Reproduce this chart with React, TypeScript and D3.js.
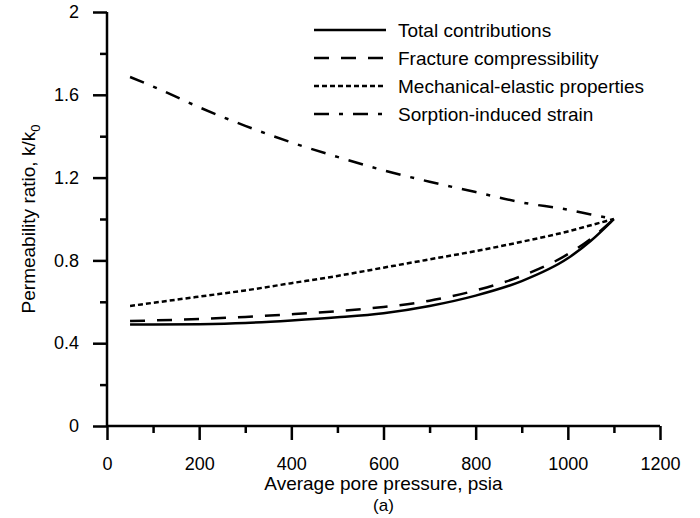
import * as d3 from "d3";
import { useEffect, useRef } from "react";

const pressure = [50, 100, 200, 300, 400, 500, 600, 700, 800, 900, 1000, 1050, 1100];
const totalRatio = [0.49, 0.49, 0.492, 0.498, 0.51, 0.525, 0.545, 0.58, 0.63, 0.7, 0.81, 0.895, 1.0];
const fractureRatio = [0.507, 0.51, 0.517, 0.527, 0.54, 0.555, 0.575, 0.605, 0.655, 0.725, 0.83, 0.905, 1.0];
const mechanicalRatio = [0.58, 0.595, 0.625, 0.655, 0.69, 0.725, 0.765, 0.805, 0.845, 0.89, 0.94, 0.97, 1.0];
const sorptionRatio = [1.686, 1.64, 1.54, 1.45, 1.37, 1.3, 1.235, 1.18, 1.13, 1.08, 1.045, 1.022, 1.0];

const xMajorTicks = [0, 200, 400, 600, 800, 1000, 1200];
const xMinorTicks = [100, 300, 500, 700, 900, 1100];
const yMajorTicks = [0, 0.4, 0.8, 1.2, 1.6, 2];
const yMinorTicks = [0.2, 0.6, 1.0, 1.4, 1.8];

const SERIES = [
  { name: "Total contributions", values: totalRatio, dash: null },
  { name: "Fracture compressibility", values: fractureRatio, dash: "15,12" },
  { name: "Mechanical-elastic properties", values: mechanicalRatio, dash: "5,3" },
  { name: "Sorption-induced strain", values: sorptionRatio, dash: "15,10,4,10" },
];

const FONT = "'Liberation Sans', Arial, sans-serif";
const margin = { top: 12, right: 40, bottom: 92, left: 107 };
const W = 700;
const H = 518;

export default function App() {
  const svgRef = useRef<SVGSVGElement | null>(null);

  useEffect(() => {
    if (!svgRef.current) return;
    const svg = d3.select(svgRef.current);
    svg.selectAll("*").remove();

    const x = d3.scaleLinear().domain([0, 1200]).range([margin.left, W - margin.right]);
    const y = d3.scaleLinear().domain([0, 2]).range([H - margin.bottom, margin.top]);

    const g = svg.append("g").style("font-family", FONT);

    // axes: major ticks with labels, minor ticks without
    const xAxis = g
      .append("g")
      .attr("transform", `translate(0,${y(0)})`)
      .call(
        d3.axisBottom(x).tickValues(xMajorTicks).tickSize(14).tickPadding(17).tickFormat(d3.format("d"))
      );
    g.append("g")
      .attr("transform", `translate(0,${y(0)})`)
      .call(d3.axisBottom(x).tickValues(xMinorTicks).tickSize(7).tickFormat(() => ""))
      .call((a) => a.select(".domain").remove());

    const yAxis = g
      .append("g")
      .attr("transform", `translate(${x(0)},0)`)
      .call(
        d3.axisLeft(y).tickValues(yMajorTicks).tickSize(14).tickPadding(14).tickFormat((d) => String(d))
      );
    g.append("g")
      .attr("transform", `translate(${x(0)},0)`)
      .call(d3.axisLeft(y).tickValues(yMinorTicks).tickSize(7).tickFormat(() => ""))
      .call((a) => a.select(".domain").remove());

    g.selectAll(".domain, .tick line").attr("stroke", "#000").attr("stroke-width", 2.5);
    // plain axis lines, no outer ticks
    xAxis.select(".domain").attr("d", `M${x(0)},0H${x(1200)}`);
    yAxis.select(".domain").attr("d", `M0,${y(0)}V${y(2)}`);
    g.selectAll(".tick text")
      .attr("fill", "#000")
      .style("font-size", "18px")
      .style("font-family", FONT);

    // lines
    const line = d3
      .line<[number, number]>()
      .x((d) => x(d[0]))
      .y((d) => y(d[1]))
      .curve(d3.curveMonotoneX);

    SERIES.forEach((s) => {
      g.append("path")
        .datum(pressure.map((p, i) => [p, s.values[i]] as [number, number]))
        .attr("d", line)
        .attr("fill", "none")
        .attr("stroke", "#000")
        .attr("stroke-width", 2.5)
        .attr("stroke-dasharray", s.dash);
    });

    // legend
    const legend = g.append("g").attr("transform", "translate(314,30)");
    SERIES.forEach((s, i) => {
      const row = legend.append("g").attr("transform", `translate(0,${i * 28})`);
      row
        .append("line")
        .attr("x1", 0)
        .attr("x2", 72)
        .attr("stroke", "#000")
        .attr("stroke-width", 2.5)
        .attr("stroke-dasharray", s.dash);
      row
        .append("text")
        .attr("x", 84)
        .attr("y", 7)
        .style("font-size", "19px")
        .text(s.name);
    });

    // axis titles
    g.append("text")
      .attr("x", (x(0) + x(1200)) / 2)
      .attr("y", 490)
      .attr("text-anchor", "middle")
      .style("font-size", "19px")
      .text("Average pore pressure, psia");
    g.append("text")
      .attr("x", (x(0) + x(1200)) / 2)
      .attr("y", 511)
      .attr("text-anchor", "middle")
      .style("font-size", "17px")
      .text("(a)");

    const yTitle = g
      .append("text")
      .attr("transform", `translate(35,${(y(0) + y(2)) / 2}) rotate(-90)`)
      .attr("text-anchor", "middle")
      .style("font-size", "19px");
    yTitle.append("tspan").text("Permeability ratio, k/k");
    yTitle.append("tspan").attr("dy", 5).style("font-size", "13px").text("0");
  }, []);

  return (
    <svg
      ref={svgRef}
      width={W}
      height={H}
      style={{ position: "absolute", left: 0, top: 0, background: "#fff" }}
    />
  );
}
